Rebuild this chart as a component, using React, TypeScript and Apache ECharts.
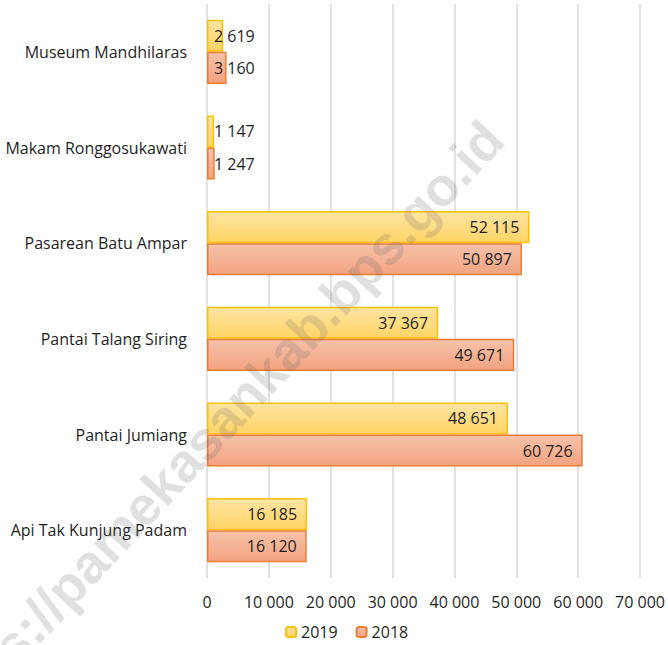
import React, { useEffect, useRef } from "react";
import * as echarts from "echarts";

const categories = [
  "Museum Mandhilaras",
  "Makam Ronggosukawati",
  "Pasarean Batu Ampar",
  "Pantai Talang Siring",
  "Pantai Jumiang",
  "Api Tak Kunjung Padam",
];
const values2019 = [2619, 1147, 52115, 37367, 48651, 16185];
const values2018 = [3160, 1247, 50897, 49671, 60726, 16120];
const seriesNames = ["2019", "2018"];
const watermarkText = "https://pamekasankab.bps.go.id";

const FONT = "'Open Sans', Lato, sans-serif";
const fmt = (v: number) => String(v).replace(/\B(?=(\d{3})+(?!\d))/g, " ");

function makeData(vals: number[]) {
  return vals.map((v) =>
    v < 8000
      ? { value: v, label: { position: "insideLeft", distance: 7 } }
      : { value: v }
  );
}

export default function App() {
  const ref = useRef<HTMLDivElement>(null);
  useEffect(() => {
    document.body.style.margin = "0";
    const chart = echarts.init(ref.current!, undefined, { renderer: "svg" });
    const labelStyle = {
      show: true,
      position: "insideRight",
      distance: 10,
      color: "#1f1f1f",
      fontSize: 16,
      fontFamily: FONT,
      formatter: (p: any) => fmt(p.value),
    };
    chart.setOption({
      animation: false,
      textStyle: { fontFamily: FONT },
      grid: { left: 207, right: 26.5, top: 4, bottom: 67 },
      legend: {
        bottom: 0,
        left: 280,
        itemWidth: 10,
        itemHeight: 10,
        itemGap: 18,
        textStyle: { fontSize: 16, color: "#1f1f1f", fontFamily: FONT },
        data: seriesNames,
      },
      xAxis: {
        type: "value",
        min: 0,
        max: 70000,
        interval: 10000,
        axisLine: { show: false },
        axisTick: { show: false },
        splitLine: { lineStyle: { color: "#d9d9d9", width: 1.5 } },
        axisLabel: {
          margin: 16,
          fontSize: 16,
          color: "#1f1f1f",
          fontFamily: FONT,
          formatter: (v: number) => fmt(v),
        },
      },
      yAxis: {
        type: "category",
        inverse: true,
        data: categories,
        axisLine: { show: false },
        axisTick: { show: false },
        axisLabel: {
          margin: 20,
          fontSize: 16,
          color: "#1f1f1f",
          fontFamily: FONT,
        },
      },
      series: [
        {
          name: seriesNames[0],
          type: "bar",
          barGap: "0%",
          barCategoryGap: "33%",
          data: makeData(values2019),
          label: labelStyle,
          itemStyle: {
            color: new echarts.graphic.LinearGradient(0, 0, 0, 1, [
              { offset: 0, color: "#FFE4A3" },
              { offset: 1, color: "#FFD466" },
            ]),
            borderColor: "#FFC000",
            borderWidth: 1.5,
          },
        },
        {
          name: seriesNames[1],
          type: "bar",
          barGap: "0%",
          barCategoryGap: "33%",
          data: makeData(values2018),
          label: labelStyle,
          itemStyle: {
            color: new echarts.graphic.LinearGradient(0, 0, 0, 1, [
              { offset: 0, color: "#F7C2AA" },
              { offset: 1, color: "#F2A381" },
            ]),
            borderColor: "#ED7D31",
            borderWidth: 1.5,
          },
        },
      ],
      graphic: [
        {
          type: "text",
          x: 213,
          y: 430,
          rotation: (47 * Math.PI) / 180,
          z: 100,
          silent: true,
          style: {
            text: watermarkText,
            fontSize: 54,
            fontWeight: "bold",
            fontFamily: "'Liberation Sans', Arial, sans-serif",
            fill: "rgba(100,100,100,0.2)",
            align: "center",
            verticalAlign: "middle",
          },
        },
      ],
    });
    return () => chart.dispose();
  }, []);
  return <div ref={ref} style={{ width: 668, height: 645 }} />;
}
